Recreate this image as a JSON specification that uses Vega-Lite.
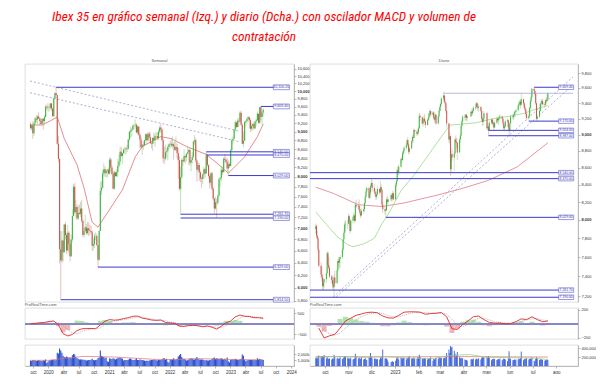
{
"$schema":"https://vega.github.io/schema/vega-lite/v6.json",
"background":"white",
"padding":{"left":24,"top":10,"right":0,"bottom":0},
"title":{"text":["Ibex 35 en gráfico semanal (Izq.) y diario (Dcha.) con oscilador MACD y volumen de","contratación"],"font":"Liberation Sans Narrow, Roboto Condensed, Liberation Sans","fontStyle":"italic","fontWeight":"normal","fontSize":13.3,"lineHeight":20,"color":"#ff0000","anchor":"middle","dx":-46,"offset":15},
"config":{"view":{"stroke":"#c8c8c8","strokeWidth":0.6},"axis":{"labelFont":"Liberation Sans","labelFontSize":4,"labelColor":"#333","tickSize":2,"tickColor":"#777","tickWidth":0.5,"domainColor":"#888","domainWidth":0.5,"labelPadding":1,"grid":false},"title":{"fontWeight":"normal"}},
"datasets":{
"wk":[
{"t":"2019-09-16","o":9180,"h":9230,"l":9050,"c":9080,"v":900},
{"t":"2019-09-23","o":9080,"h":9160,"l":9020,"c":9150,"v":850},
{"t":"2019-09-30","o":9150,"h":9250,"l":8830,"c":8960,"v":1000},
{"t":"2019-10-07","o":8960,"h":9230,"l":8900,"c":9200,"v":950},
{"t":"2019-10-14","o":9200,"h":9350,"l":9150,"c":9310,"v":900},
{"t":"2019-10-21","o":9310,"h":9400,"l":9220,"c":9290,"v":850},
{"t":"2019-10-28","o":9290,"h":9400,"l":9180,"c":9360,"v":900},
{"t":"2019-11-04","o":9360,"h":9470,"l":9300,"c":9310,"v":950},
{"t":"2019-11-11","o":9310,"h":9340,"l":9150,"c":9250,"v":900},
{"t":"2019-11-18","o":9250,"h":9320,"l":9150,"c":9180,"v":850},
{"t":"2019-11-25","o":9180,"h":9330,"l":9150,"c":9300,"v":800},
{"t":"2019-12-02","o":9300,"h":9320,"l":9050,"c":9250,"v":950},
{"t":"2019-12-09","o":9250,"h":9400,"l":9150,"c":9350,"v":900},
{"t":"2019-12-16","o":9350,"h":9650,"l":9330,"c":9600,"v":1100},
{"t":"2019-12-23","o":9600,"h":9650,"l":9530,"c":9580,"v":500},
{"t":"2019-12-30","o":9580,"h":9690,"l":9490,"c":9570,"v":700},
{"t":"2020-01-06","o":9570,"h":9620,"l":9480,"c":9570,"v":900},
{"t":"2020-01-13","o":9570,"h":9700,"l":9530,"c":9680,"v":950},
{"t":"2020-01-20","o":9680,"h":9700,"l":9500,"c":9560,"v":1000},
{"t":"2020-01-27","o":9560,"h":9580,"l":9360,"c":9370,"v":1050},
{"t":"2020-02-03","o":9370,"h":9820,"l":9360,"c":9810,"v":1000},
{"t":"2020-02-10","o":9810,"h":9960,"l":9780,"c":9950,"v":950},
{"t":"2020-02-17","o":9950,"h":10100,"l":9880,"c":9900,"v":1000},
{"t":"2020-02-24","o":9900,"h":9900,"l":8700,"c":8720,"v":2200},
{"t":"2020-03-02","o":8720,"h":8900,"l":8310,"c":8380,"v":2100},
{"t":"2020-03-09","o":8380,"h":8400,"l":6390,"c":6630,"v":2900},
{"t":"2020-03-16","o":6630,"h":6950,"l":5814,"c":6440,"v":2600},
{"t":"2020-03-23","o":6440,"h":6950,"l":6400,"c":6780,"v":2200},
{"t":"2020-03-30","o":6780,"h":6800,"l":6420,"c":6580,"v":1700},
{"t":"2020-04-06","o":6580,"h":7080,"l":6570,"c":7070,"v":1500},
{"t":"2020-04-13","o":7070,"h":7120,"l":6800,"c":6880,"v":1400},
{"t":"2020-04-20","o":6880,"h":6920,"l":6550,"c":6610,"v":1600},
{"t":"2020-04-27","o":6610,"h":7060,"l":6600,"c":6920,"v":1500},
{"t":"2020-05-04","o":6920,"h":6950,"l":6560,"c":6720,"v":1300},
{"t":"2020-05-11","o":6720,"h":6810,"l":6420,"c":6510,"v":1400},
{"t":"2020-05-18","o":6510,"h":6890,"l":6500,"c":6800,"v":1300},
{"t":"2020-05-25","o":6800,"h":7350,"l":6750,"c":7230,"v":1800},
{"t":"2020-06-01","o":7230,"h":7850,"l":7230,"c":7800,"v":2000},
{"t":"2020-06-08","o":7800,"h":7870,"l":7270,"c":7300,"v":1900},
{"t":"2020-06-15","o":7300,"h":7540,"l":7200,"c":7400,"v":1500},
{"t":"2020-06-22","o":7400,"h":7450,"l":7150,"c":7180,"v":1300},
{"t":"2020-06-29","o":7180,"h":7420,"l":7160,"c":7290,"v":1200},
{"t":"2020-07-06","o":7290,"h":7450,"l":7250,"c":7270,"v":1100},
{"t":"2020-07-13","o":7270,"h":7500,"l":7210,"c":7370,"v":1100},
{"t":"2020-07-20","o":7370,"h":7540,"l":7100,"c":7140,"v":1100},
{"t":"2020-07-27","o":7140,"h":7160,"l":6850,"c":6880,"v":1100},
{"t":"2020-08-03","o":6880,"h":7000,"l":6830,"c":6950,"v":1000},
{"t":"2020-08-10","o":6950,"h":7250,"l":6950,"c":7020,"v":1050},
{"t":"2020-08-17","o":7020,"h":7080,"l":6880,"c":6910,"v":900},
{"t":"2020-08-24","o":6910,"h":7120,"l":6890,"c":7000,"v":950},
{"t":"2020-08-31","o":7000,"h":7110,"l":6860,"c":6960,"v":1000},
{"t":"2020-09-07","o":6960,"h":7060,"l":6880,"c":6950,"v":1000},
{"t":"2020-09-14","o":6950,"h":7050,"l":6910,"c":6930,"v":1050},
{"t":"2020-09-21","o":6930,"h":6960,"l":6600,"c":6690,"v":1200},
{"t":"2020-09-28","o":6690,"h":6820,"l":6610,"c":6720,"v":1000},
{"t":"2020-10-05","o":6720,"h":6900,"l":6650,"c":6860,"v":950},
{"t":"2020-10-12","o":6860,"h":6930,"l":6790,"c":6860,"v":1000},
{"t":"2020-10-19","o":6860,"h":6900,"l":6690,"c":6700,"v":1050},
{"t":"2020-10-26","o":6700,"h":6700,"l":6329,"c":6450,"v":1300},
{"t":"2020-11-02","o":6450,"h":6960,"l":6430,"c":6950,"v":1400},
{"t":"2020-11-09","o":6950,"h":7900,"l":6950,"c":7720,"v":2600},
{"t":"2020-11-16","o":7720,"h":7920,"l":7630,"c":7780,"v":1700},
{"t":"2020-11-23","o":7780,"h":8150,"l":7760,"c":8080,"v":1600},
{"t":"2020-11-30","o":8080,"h":8290,"l":8010,"c":8160,"v":1500},
{"t":"2020-12-07","o":8160,"h":8220,"l":8000,"c":8080,"v":1300},
{"t":"2020-12-14","o":8080,"h":8170,"l":8000,"c":8130,"v":1400},
{"t":"2020-12-21","o":8130,"h":8170,"l":7980,"c":8150,"v":800},
{"t":"2020-12-28","o":8150,"h":8200,"l":8050,"c":8070,"v":700},
{"t":"2021-01-04","o":8070,"h":8420,"l":8050,"c":8370,"v":1300},
{"t":"2021-01-11","o":8370,"h":8410,"l":8120,"c":8200,"v":1200},
{"t":"2021-01-18","o":8200,"h":8240,"l":8040,"c":8060,"v":1150},
{"t":"2021-01-25","o":8060,"h":8120,"l":7750,"c":7760,"v":1300},
{"t":"2021-02-01","o":7760,"h":8130,"l":7740,"c":8100,"v":1200},
{"t":"2021-02-08","o":8100,"h":8110,"l":8000,"c":8020,"v":1100},
{"t":"2021-02-15","o":8020,"h":8160,"l":7990,"c":8100,"v":1200},
{"t":"2021-02-22","o":8100,"h":8380,"l":8000,"c":8230,"v":1300},
{"t":"2021-03-01","o":8230,"h":8480,"l":8190,"c":8330,"v":1400},
{"t":"2021-03-08","o":8330,"h":8660,"l":8260,"c":8540,"v":1400},
{"t":"2021-03-15","o":8540,"h":8640,"l":8430,"c":8450,"v":1300},
{"t":"2021-03-22","o":8450,"h":8520,"l":8280,"c":8510,"v":1200},
{"t":"2021-03-29","o":8510,"h":8620,"l":8490,"c":8590,"v":900},
{"t":"2021-04-05","o":8590,"h":8650,"l":8510,"c":8590,"v":1000},
{"t":"2021-04-12","o":8590,"h":8640,"l":8480,"c":8620,"v":1000},
{"t":"2021-04-19","o":8620,"h":8700,"l":8530,"c":8610,"v":1000},
{"t":"2021-04-26","o":8610,"h":8830,"l":8590,"c":8820,"v":1050},
{"t":"2021-05-03","o":8820,"h":9020,"l":8780,"c":9000,"v":1200},
{"t":"2021-05-10","o":9000,"h":9110,"l":8850,"c":9020,"v":1250},
{"t":"2021-05-17","o":9020,"h":9090,"l":8890,"c":9050,"v":1100},
{"t":"2021-05-24","o":9050,"h":9150,"l":9040,"c":9150,"v":1000},
{"t":"2021-05-31","o":9150,"h":9190,"l":9050,"c":9150,"v":1000},
{"t":"2021-06-07","o":9150,"h":9290,"l":9100,"c":9160,"v":1100},
{"t":"2021-06-14","o":9160,"h":9200,"l":8960,"c":8980,"v":1300},
{"t":"2021-06-21","o":8980,"h":9150,"l":8930,"c":9120,"v":1000},
{"t":"2021-06-28","o":9120,"h":9120,"l":8900,"c":8930,"v":1000},
{"t":"2021-07-05","o":8930,"h":8980,"l":8630,"c":8820,"v":1100},
{"t":"2021-07-12","o":8820,"h":8890,"l":8610,"c":8640,"v":1050},
{"t":"2021-07-19","o":8640,"h":8720,"l":8470,"c":8700,"v":1000},
{"t":"2021-07-26","o":8700,"h":8790,"l":8590,"c":8680,"v":950},
{"t":"2021-08-02","o":8680,"h":8820,"l":8680,"c":8800,"v":900},
{"t":"2021-08-09","o":8800,"h":8960,"l":8780,"c":8940,"v":850},
{"t":"2021-08-16","o":8940,"h":8960,"l":8700,"c":8800,"v":900},
{"t":"2021-08-23","o":8800,"h":8990,"l":8780,"c":8950,"v":850},
{"t":"2021-08-30","o":8950,"h":9000,"l":8850,"c":8870,"v":900},
{"t":"2021-09-06","o":8870,"h":8980,"l":8720,"c":8730,"v":950},
{"t":"2021-09-13","o":8730,"h":8780,"l":8620,"c":8720,"v":1000},
{"t":"2021-09-20","o":8720,"h":8860,"l":8560,"c":8860,"v":1000},
{"t":"2021-09-27","o":8860,"h":8980,"l":8730,"c":8800,"v":1100},
{"t":"2021-10-04","o":8800,"h":8950,"l":8660,"c":8900,"v":1000},
{"t":"2021-10-11","o":8900,"h":8990,"l":8840,"c":8900,"v":950},
{"t":"2021-10-18","o":8900,"h":8990,"l":8800,"c":8850,"v":900},
{"t":"2021-10-25","o":8850,"h":9050,"l":8800,"c":9000,"v":1000},
{"t":"2021-11-01","o":9000,"h":9140,"l":8950,"c":9100,"v":1000},
{"t":"2021-11-08","o":9100,"h":9190,"l":8980,"c":9050,"v":1000},
{"t":"2021-11-15","o":9050,"h":9080,"l":8780,"c":8800,"v":1100},
{"t":"2021-11-22","o":8800,"h":8850,"l":8300,"c":8400,"v":1300},
{"t":"2021-11-29","o":8400,"h":8650,"l":8270,"c":8390,"v":1300},
{"t":"2021-12-06","o":8390,"h":8700,"l":8350,"c":8530,"v":1100},
{"t":"2021-12-13","o":8530,"h":8620,"l":8400,"c":8550,"v":1200},
{"t":"2021-12-20","o":8550,"h":8700,"l":8350,"c":8650,"v":700},
{"t":"2021-12-27","o":8650,"h":8730,"l":8600,"c":8710,"v":600},
{"t":"2022-01-03","o":8710,"h":8790,"l":8630,"c":8720,"v":1100},
{"t":"2022-01-10","o":8720,"h":8850,"l":8640,"c":8680,"v":1100},
{"t":"2022-01-17","o":8680,"h":8890,"l":8610,"c":8710,"v":1100},
{"t":"2022-01-24","o":8710,"h":8750,"l":8370,"c":8660,"v":1300},
{"t":"2022-01-31","o":8660,"h":8800,"l":8560,"c":8580,"v":1100},
{"t":"2022-02-07","o":8580,"h":8890,"l":8560,"c":8650,"v":1100},
{"t":"2022-02-14","o":8650,"h":8720,"l":8400,"c":8510,"v":1200},
{"t":"2022-02-21","o":8510,"h":8620,"l":7970,"c":8360,"v":1600},
{"t":"2022-02-28","o":8360,"h":8440,"l":7720,"c":7760,"v":1800},
{"t":"2022-03-07","o":7760,"h":8220,"l":7262,"c":8000,"v":2000},
{"t":"2022-03-14","o":8000,"h":8400,"l":7960,"c":8360,"v":1500},
{"t":"2022-03-21","o":8360,"h":8410,"l":8230,"c":8330,"v":1200},
{"t":"2022-03-28","o":8330,"h":8600,"l":8320,"c":8450,"v":1200},
{"t":"2022-04-04","o":8450,"h":8470,"l":8280,"c":8420,"v":1100},
{"t":"2022-04-11","o":8420,"h":8520,"l":8330,"c":8500,"v":900},
{"t":"2022-04-18","o":8500,"h":8680,"l":8480,"c":8530,"v":950},
{"t":"2022-04-25","o":8530,"h":8600,"l":8250,"c":8580,"v":1100},
{"t":"2022-05-02","o":8580,"h":8630,"l":8240,"c":8300,"v":1200},
{"t":"2022-05-09","o":8300,"h":8370,"l":8120,"c":8360,"v":1300},
{"t":"2022-05-16","o":8360,"h":8530,"l":8280,"c":8430,"v":1200},
{"t":"2022-05-23","o":8430,"h":8790,"l":8400,"c":8770,"v":1100},
{"t":"2022-05-30","o":8770,"h":8920,"l":8700,"c":8800,"v":1100},
{"t":"2022-06-06","o":8800,"h":8850,"l":8300,"c":8350,"v":1200},
{"t":"2022-06-13","o":8350,"h":8380,"l":7900,"c":8150,"v":1500},
{"t":"2022-06-20","o":8150,"h":8310,"l":8100,"c":8250,"v":1200},
{"t":"2022-06-27","o":8250,"h":8300,"l":7920,"c":8100,"v":1100},
{"t":"2022-07-04","o":8100,"h":8130,"l":7890,"c":7970,"v":1100},
{"t":"2022-07-11","o":7970,"h":8010,"l":7770,"c":7960,"v":1100},
{"t":"2022-07-18","o":7960,"h":8080,"l":7860,"c":8050,"v":1100},
{"t":"2022-07-25","o":8050,"h":8220,"l":7960,"c":8160,"v":1000},
{"t":"2022-08-01","o":8160,"h":8190,"l":7980,"c":8070,"v":900},
{"t":"2022-08-08","o":8070,"h":8540,"l":8060,"c":8460,"v":1000},
{"t":"2022-08-15","o":8460,"h":8480,"l":8210,"c":8250,"v":900},
{"t":"2022-08-22","o":8250,"h":8270,"l":7970,"c":8020,"v":900},
{"t":"2022-08-29","o":8020,"h":8050,"l":7760,"c":7880,"v":1000},
{"t":"2022-09-05","o":7880,"h":8100,"l":7820,"c":8080,"v":1000},
{"t":"2022-09-12","o":8080,"h":8110,"l":7720,"c":7760,"v":1200},
{"t":"2022-09-19","o":7760,"h":7800,"l":7530,"c":7560,"v":1300},
{"t":"2022-09-26","o":7560,"h":7580,"l":7260,"c":7370,"v":1400},
{"t":"2022-10-03","o":7370,"h":7600,"l":7350,"c":7490,"v":1200},
{"t":"2022-10-10","o":7490,"h":7560,"l":7190,"c":7480,"v":1300},
{"t":"2022-10-17","o":7480,"h":7660,"l":7440,"c":7620,"v":1200},
{"t":"2022-10-24","o":7620,"h":7990,"l":7600,"c":7950,"v":1200},
{"t":"2022-10-31","o":7950,"h":8000,"l":7800,"c":7980,"v":1200},
{"t":"2022-11-07","o":7980,"h":8230,"l":7910,"c":8150,"v":1300},
{"t":"2022-11-14","o":8150,"h":8220,"l":8040,"c":8100,"v":1200},
{"t":"2022-11-21","o":8100,"h":8420,"l":8090,"c":8390,"v":1100},
{"t":"2022-11-28","o":8390,"h":8490,"l":8300,"c":8360,"v":1200},
{"t":"2022-12-05","o":8360,"h":8420,"l":8290,"c":8320,"v":1100},
{"t":"2022-12-12","o":8320,"h":8400,"l":8110,"c":8180,"v":1400},
{"t":"2022-12-19","o":8180,"h":8360,"l":8029,"c":8270,"v":800},
{"t":"2022-12-26","o":8270,"h":8310,"l":8190,"c":8230,"v":600},
{"t":"2023-01-02","o":8230,"h":8610,"l":8230,"c":8580,"v":1000},
{"t":"2023-01-09","o":8580,"h":8850,"l":8550,"c":8800,"v":1100},
{"t":"2023-01-16","o":8800,"h":8890,"l":8710,"c":8830,"v":1100},
{"t":"2023-01-23","o":8830,"h":9060,"l":8830,"c":9050,"v":1100},
{"t":"2023-01-30","o":9050,"h":9260,"l":8990,"c":9220,"v":1200},
{"t":"2023-02-06","o":9220,"h":9240,"l":9080,"c":9110,"v":1100},
{"t":"2023-02-13","o":9110,"h":9310,"l":9100,"c":9260,"v":1000},
{"t":"2023-02-20","o":9260,"h":9330,"l":9110,"c":9240,"v":1000},
{"t":"2023-02-27","o":9240,"h":9490,"l":9210,"c":9450,"v":1100},
{"t":"2023-03-06","o":9450,"h":9500,"l":9140,"c":9160,"v":1200},
{"t":"2023-03-13","o":9160,"h":9200,"l":8720,"c":8720,"v":1900},
{"t":"2023-03-20","o":8720,"h":9010,"l":8640,"c":8790,"v":1700},
{"t":"2023-03-27","o":8790,"h":9250,"l":8780,"c":9230,"v":1100},
{"t":"2023-04-03","o":9230,"h":9270,"l":9120,"c":9250,"v":800},
{"t":"2023-04-10","o":9250,"h":9340,"l":9180,"c":9300,"v":900},
{"t":"2023-04-17","o":9300,"h":9380,"l":9240,"c":9340,"v":1000},
{"t":"2023-04-24","o":9340,"h":9360,"l":9070,"c":9270,"v":1000},
{"t":"2023-05-01","o":9270,"h":9310,"l":8990,"c":9070,"v":1000},
{"t":"2023-05-08","o":9070,"h":9200,"l":9020,"c":9130,"v":1000},
{"t":"2023-05-15","o":9130,"h":9210,"l":9020,"c":9180,"v":1000},
{"t":"2023-05-22","o":9180,"h":9240,"l":9060,"c":9080,"v":950},
{"t":"2023-05-29","o":9080,"h":9250,"l":9050,"c":9240,"v":1000},
{"t":"2023-06-05","o":9240,"h":9310,"l":9140,"c":9270,"v":1000},
{"t":"2023-06-12","o":9270,"h":9490,"l":9250,"c":9430,"v":1300},
{"t":"2023-06-19","o":9430,"h":9440,"l":9180,"c":9210,"v":1100},
{"t":"2023-06-26","o":9210,"h":9600,"l":9190,"c":9590,"v":1200},
{"t":"2023-07-03","o":9590,"h":9609,"l":9270,"c":9350,"v":1100},
{"t":"2023-07-10","o":9350,"h":9480,"l":9170,"c":9460,"v":1000},
{"t":"2023-07-17","o":9460,"h":9560,"l":9360,"c":9530,"v":1000}
],
"dy":[
{"t":"2022-09-19","o":7900,"h":7960,"l":7850,"c":7930,"v":190},
{"t":"2022-09-20","o":7930,"h":7950,"l":7800,"c":7830,"v":180},
{"t":"2022-09-21","o":7830,"h":7880,"l":7780,"c":7800,"v":170},
{"t":"2022-09-22","o":7800,"h":7820,"l":7650,"c":7680,"v":210},
{"t":"2022-09-23","o":7680,"h":7690,"l":7490,"c":7510,"v":240},
{"t":"2022-09-26","o":7510,"h":7550,"l":7390,"c":7420,"v":220},
{"t":"2022-09-27","o":7420,"h":7500,"l":7350,"c":7390,"v":200},
{"t":"2022-09-28","o":7390,"h":7420,"l":7265,"c":7300,"v":230},
{"t":"2022-09-29","o":7300,"h":7380,"l":7260,"c":7340,"v":210},
{"t":"2022-09-30","o":7340,"h":7380,"l":7280,"c":7370,"v":250},
{"t":"2022-10-03","o":7370,"h":7450,"l":7330,"c":7430,"v":170},
{"t":"2022-10-04","o":7430,"h":7660,"l":7430,"c":7640,"v":200},
{"t":"2022-10-05","o":7640,"h":7660,"l":7500,"c":7520,"v":180},
{"t":"2022-10-06","o":7520,"h":7600,"l":7470,"c":7490,"v":160},
{"t":"2022-10-07","o":7490,"h":7500,"l":7380,"c":7400,"v":170},
{"t":"2022-10-10","o":7400,"h":7420,"l":7330,"c":7360,"v":150},
{"t":"2022-10-11","o":7360,"h":7400,"l":7280,"c":7320,"v":170},
{"t":"2022-10-12","o":7320,"h":7360,"l":7260,"c":7290,"v":160},
{"t":"2022-10-13","o":7290,"h":7420,"l":7190,"c":7390,"v":260},
{"t":"2022-10-14","o":7390,"h":7460,"l":7300,"c":7330,"v":200},
{"t":"2022-10-17","o":7330,"h":7480,"l":7330,"c":7460,"v":170},
{"t":"2022-10-18","o":7460,"h":7580,"l":7440,"c":7560,"v":190},
{"t":"2022-10-19","o":7560,"h":7600,"l":7500,"c":7540,"v":160},
{"t":"2022-10-20","o":7540,"h":7600,"l":7480,"c":7580,"v":170},
{"t":"2022-10-21","o":7580,"h":7620,"l":7480,"c":7600,"v":200},
{"t":"2022-10-24","o":7600,"h":7700,"l":7580,"c":7680,"v":160},
{"t":"2022-10-25","o":7680,"h":7800,"l":7650,"c":7790,"v":180},
{"t":"2022-10-26","o":7790,"h":7900,"l":7760,"c":7860,"v":200},
{"t":"2022-10-27","o":7860,"h":7990,"l":7850,"c":7950,"v":230},
{"t":"2022-10-28","o":7950,"h":8000,"l":7880,"c":7960,"v":210},
{"t":"2022-10-31","o":7960,"h":8000,"l":7900,"c":7960,"v":190},
{"t":"2022-11-01","o":7960,"h":8070,"l":7950,"c":8040,"v":170},
{"t":"2022-11-02","o":8040,"h":8060,"l":7950,"c":7990,"v":160},
{"t":"2022-11-03","o":7990,"h":8000,"l":7850,"c":7880,"v":190},
{"t":"2022-11-04","o":7880,"h":8010,"l":7870,"c":7990,"v":180},
{"t":"2022-11-07","o":7990,"h":8050,"l":7960,"c":8030,"v":150},
{"t":"2022-11-08","o":8030,"h":8080,"l":7990,"c":8050,"v":160},
{"t":"2022-11-09","o":8050,"h":8060,"l":7970,"c":7990,"v":170},
{"t":"2022-11-10","o":7990,"h":8200,"l":7980,"c":8170,"v":280},
{"t":"2022-11-11","o":8170,"h":8230,"l":8130,"c":8150,"v":220},
{"t":"2022-11-14","o":8150,"h":8200,"l":8110,"c":8160,"v":170},
{"t":"2022-11-15","o":8160,"h":8230,"l":8100,"c":8120,"v":190},
{"t":"2022-11-16","o":8120,"h":8140,"l":8050,"c":8080,"v":170},
{"t":"2022-11-17","o":8080,"h":8100,"l":8020,"c":8050,"v":160},
{"t":"2022-11-18","o":8050,"h":8130,"l":8040,"c":8100,"v":200},
{"t":"2022-11-21","o":8100,"h":8150,"l":8070,"c":8120,"v":150},
{"t":"2022-11-22","o":8120,"h":8200,"l":8090,"c":8190,"v":160},
{"t":"2022-11-23","o":8190,"h":8280,"l":8170,"c":8260,"v":180},
{"t":"2022-11-24","o":8260,"h":8350,"l":8250,"c":8320,"v":150},
{"t":"2022-11-25","o":8320,"h":8380,"l":8300,"c":8360,"v":140},
{"t":"2022-11-28","o":8360,"h":8370,"l":8230,"c":8250,"v":200},
{"t":"2022-11-29","o":8250,"h":8330,"l":8240,"c":8310,"v":190},
{"t":"2022-11-30","o":8310,"h":8400,"l":8290,"c":8380,"v":300},
{"t":"2022-12-01","o":8380,"h":8480,"l":8370,"c":8420,"v":210},
{"t":"2022-12-02","o":8420,"h":8450,"l":8320,"c":8360,"v":180},
{"t":"2022-12-05","o":8360,"h":8400,"l":8300,"c":8320,"v":170},
{"t":"2022-12-06","o":8320,"h":8350,"l":8260,"c":8290,"v":160},
{"t":"2022-12-07","o":8290,"h":8310,"l":8220,"c":8260,"v":170},
{"t":"2022-12-08","o":8260,"h":8320,"l":8230,"c":8290,"v":150},
{"t":"2022-12-09","o":8290,"h":8380,"l":8280,"c":8350,"v":160},
{"t":"2022-12-12","o":8350,"h":8360,"l":8280,"c":8310,"v":150},
{"t":"2022-12-13","o":8310,"h":8440,"l":8300,"c":8370,"v":190},
{"t":"2022-12-14","o":8370,"h":8400,"l":8320,"c":8340,"v":170},
{"t":"2022-12-15","o":8340,"h":8350,"l":8150,"c":8170,"v":230},
{"t":"2022-12-16","o":8170,"h":8200,"l":8080,"c":8120,"v":380},
{"t":"2022-12-19","o":8120,"h":8160,"l":8060,"c":8100,"v":170},
{"t":"2022-12-20","o":8100,"h":8140,"l":8029,"c":8110,"v":180},
{"t":"2022-12-21","o":8110,"h":8250,"l":8100,"c":8230,"v":170},
{"t":"2022-12-22","o":8230,"h":8270,"l":8170,"c":8200,"v":150},
{"t":"2022-12-23","o":8200,"h":8250,"l":8180,"c":8230,"v":100},
{"t":"2022-12-27","o":8230,"h":8300,"l":8210,"c":8280,"v":90},
{"t":"2022-12-28","o":8280,"h":8300,"l":8200,"c":8240,"v":100},
{"t":"2022-12-29","o":8240,"h":8330,"l":8230,"c":8300,"v":110},
{"t":"2022-12-30","o":8300,"h":8310,"l":8220,"c":8230,"v":90},
{"t":"2023-01-02","o":8230,"h":8420,"l":8230,"c":8400,"v":120},
{"t":"2023-01-03","o":8400,"h":8450,"l":8370,"c":8440,"v":170},
{"t":"2023-01-04","o":8440,"h":8600,"l":8430,"c":8570,"v":200},
{"t":"2023-01-05","o":8570,"h":8620,"l":8520,"c":8550,"v":180},
{"t":"2023-01-06","o":8550,"h":8640,"l":8510,"c":8610,"v":150},
{"t":"2023-01-09","o":8610,"h":8720,"l":8600,"c":8700,"v":190},
{"t":"2023-01-10","o":8700,"h":8730,"l":8650,"c":8690,"v":170},
{"t":"2023-01-11","o":8690,"h":8790,"l":8680,"c":8770,"v":180},
{"t":"2023-01-12","o":8770,"h":8820,"l":8740,"c":8800,"v":180},
{"t":"2023-01-13","o":8800,"h":8860,"l":8760,"c":8840,"v":190},
{"t":"2023-01-16","o":8840,"h":8900,"l":8810,"c":8870,"v":150},
{"t":"2023-01-17","o":8870,"h":8950,"l":8840,"c":8930,"v":180},
{"t":"2023-01-18","o":8930,"h":8970,"l":8860,"c":8880,"v":190},
{"t":"2023-01-19","o":8880,"h":8890,"l":8760,"c":8790,"v":200},
{"t":"2023-01-20","o":8790,"h":8850,"l":8760,"c":8830,"v":220},
{"t":"2023-01-23","o":8830,"h":8930,"l":8820,"c":8920,"v":170},
{"t":"2023-01-24","o":8920,"h":8990,"l":8900,"c":8970,"v":180},
{"t":"2023-01-25","o":8970,"h":9010,"l":8900,"c":8960,"v":170},
{"t":"2023-01-26","o":8960,"h":9080,"l":8950,"c":9060,"v":200},
{"t":"2023-01-27","o":9060,"h":9070,"l":8990,"c":9040,"v":160},
{"t":"2023-01-30","o":9040,"h":9060,"l":8980,"c":9010,"v":160},
{"t":"2023-01-31","o":9010,"h":9070,"l":8990,"c":9030,"v":200},
{"t":"2023-02-01","o":9030,"h":9100,"l":9000,"c":9080,"v":190},
{"t":"2023-02-02","o":9080,"h":9270,"l":9070,"c":9240,"v":260},
{"t":"2023-02-03","o":9240,"h":9270,"l":9170,"c":9220,"v":210},
{"t":"2023-02-06","o":9220,"h":9230,"l":9120,"c":9140,"v":170},
{"t":"2023-02-07","o":9140,"h":9200,"l":9100,"c":9180,"v":160},
{"t":"2023-02-08","o":9180,"h":9240,"l":9150,"c":9200,"v":170},
{"t":"2023-02-09","o":9200,"h":9260,"l":9150,"c":9170,"v":180},
{"t":"2023-02-10","o":9170,"h":9180,"l":9080,"c":9120,"v":170},
{"t":"2023-02-13","o":9120,"h":9200,"l":9110,"c":9190,"v":150},
{"t":"2023-02-14","o":9190,"h":9260,"l":9170,"c":9220,"v":160},
{"t":"2023-02-15","o":9220,"h":9280,"l":9180,"c":9270,"v":170},
{"t":"2023-02-16","o":9270,"h":9330,"l":9240,"c":9300,"v":180},
{"t":"2023-02-17","o":9300,"h":9310,"l":9220,"c":9250,"v":200},
{"t":"2023-02-20","o":9250,"h":9300,"l":9230,"c":9280,"v":120},
{"t":"2023-02-21","o":9280,"h":9290,"l":9180,"c":9210,"v":160},
{"t":"2023-02-22","o":9210,"h":9230,"l":9150,"c":9190,"v":150},
{"t":"2023-02-23","o":9190,"h":9270,"l":9180,"c":9250,"v":170},
{"t":"2023-02-24","o":9250,"h":9260,"l":9120,"c":9140,"v":190},
{"t":"2023-02-27","o":9140,"h":9250,"l":9130,"c":9230,"v":160},
{"t":"2023-02-28","o":9230,"h":9320,"l":9220,"c":9300,"v":200},
{"t":"2023-03-01","o":9300,"h":9380,"l":9280,"c":9350,"v":190},
{"t":"2023-03-02","o":9350,"h":9410,"l":9300,"c":9390,"v":180},
{"t":"2023-03-03","o":9390,"h":9470,"l":9370,"c":9460,"v":190},
{"t":"2023-03-06","o":9460,"h":9550,"l":9430,"c":9500,"v":180},
{"t":"2023-03-07","o":9500,"h":9510,"l":9400,"c":9420,"v":190},
{"t":"2023-03-08","o":9420,"h":9450,"l":9350,"c":9400,"v":170},
{"t":"2023-03-09","o":9400,"h":9410,"l":9270,"c":9300,"v":220},
{"t":"2023-03-10","o":9300,"h":9310,"l":9100,"c":9140,"v":300},
{"t":"2023-03-13","o":9140,"h":9150,"l":8900,"c":8940,"v":380},
{"t":"2023-03-14","o":8940,"h":9030,"l":8880,"c":8980,"v":300},
{"t":"2023-03-15","o":8980,"h":8990,"l":8500,"c":8580,"v":460},
{"t":"2023-03-16","o":8580,"h":8800,"l":8530,"c":8760,"v":420},
{"t":"2023-03-17","o":8760,"h":8830,"l":8680,"c":8720,"v":440},
{"t":"2023-03-20","o":8720,"h":8800,"l":8560,"c":8770,"v":350},
{"t":"2023-03-21","o":8770,"h":8960,"l":8760,"c":8940,"v":280},
{"t":"2023-03-22","o":8940,"h":8990,"l":8880,"c":8910,"v":220},
{"t":"2023-03-23","o":8910,"h":8960,"l":8830,"c":8900,"v":240},
{"t":"2023-03-24","o":8900,"h":8910,"l":8690,"c":8780,"v":320},
{"t":"2023-03-27","o":8780,"h":8960,"l":8780,"c":8940,"v":200},
{"t":"2023-03-28","o":8940,"h":9010,"l":8900,"c":8990,"v":180},
{"t":"2023-03-29","o":8990,"h":9130,"l":8980,"c":9110,"v":190},
{"t":"2023-03-30","o":9110,"h":9190,"l":9090,"c":9170,"v":170},
{"t":"2023-03-31","o":9170,"h":9240,"l":9140,"c":9230,"v":180},
{"t":"2023-04-03","o":9230,"h":9260,"l":9180,"c":9220,"v":150},
{"t":"2023-04-04","o":9220,"h":9260,"l":9170,"c":9250,"v":140},
{"t":"2023-04-05","o":9250,"h":9270,"l":9180,"c":9210,"v":140},
{"t":"2023-04-06","o":9210,"h":9240,"l":9160,"c":9230,"v":120},
{"t":"2023-04-11","o":9230,"h":9300,"l":9220,"c":9290,"v":150},
{"t":"2023-04-12","o":9290,"h":9330,"l":9250,"c":9270,"v":160},
{"t":"2023-04-13","o":9270,"h":9320,"l":9240,"c":9300,"v":150},
{"t":"2023-04-14","o":9300,"h":9360,"l":9280,"c":9340,"v":170},
{"t":"2023-04-17","o":9340,"h":9390,"l":9310,"c":9350,"v":150},
{"t":"2023-04-18","o":9350,"h":9420,"l":9330,"c":9400,"v":170},
{"t":"2023-04-19","o":9400,"h":9410,"l":9320,"c":9360,"v":160},
{"t":"2023-04-20","o":9360,"h":9390,"l":9300,"c":9340,"v":150},
{"t":"2023-04-21","o":9340,"h":9380,"l":9290,"c":9350,"v":180},
{"t":"2023-04-24","o":9350,"h":9360,"l":9280,"c":9300,"v":150},
{"t":"2023-04-25","o":9300,"h":9310,"l":9170,"c":9200,"v":190},
{"t":"2023-04-26","o":9200,"h":9220,"l":9110,"c":9160,"v":200},
{"t":"2023-04-27","o":9160,"h":9230,"l":9120,"c":9200,"v":190},
{"t":"2023-04-28","o":9200,"h":9300,"l":9180,"c":9270,"v":200},
{"t":"2023-05-02","o":9270,"h":9290,"l":9060,"c":9080,"v":220},
{"t":"2023-05-03","o":9080,"h":9150,"l":9050,"c":9100,"v":180},
{"t":"2023-05-04","o":9100,"h":9120,"l":8987,"c":9054,"v":230},
{"t":"2023-05-05","o":9054,"h":9180,"l":9050,"c":9150,"v":190},
{"t":"2023-05-08","o":9150,"h":9200,"l":9130,"c":9190,"v":130},
{"t":"2023-05-09","o":9190,"h":9200,"l":9120,"c":9140,"v":160},
{"t":"2023-05-10","o":9140,"h":9180,"l":9100,"c":9150,"v":150},
{"t":"2023-05-11","o":9150,"h":9160,"l":9050,"c":9090,"v":170},
{"t":"2023-05-12","o":9090,"h":9180,"l":9080,"c":9150,"v":160},
{"t":"2023-05-15","o":9150,"h":9220,"l":9130,"c":9200,"v":140},
{"t":"2023-05-16","o":9200,"h":9230,"l":9160,"c":9180,"v":150},
{"t":"2023-05-17","o":9180,"h":9220,"l":9120,"c":9200,"v":160},
{"t":"2023-05-18","o":9200,"h":9250,"l":9180,"c":9220,"v":150},
{"t":"2023-05-19","o":9220,"h":9260,"l":9190,"c":9230,"v":170},
{"t":"2023-05-22","o":9230,"h":9240,"l":9180,"c":9200,"v":130},
{"t":"2023-05-23","o":9200,"h":9210,"l":9120,"c":9140,"v":150},
{"t":"2023-05-24","o":9140,"h":9150,"l":9060,"c":9080,"v":170},
{"t":"2023-05-25","o":9080,"h":9120,"l":9040,"c":9100,"v":160},
{"t":"2023-05-26","o":9100,"h":9190,"l":9090,"c":9170,"v":150},
{"t":"2023-05-29","o":9170,"h":9210,"l":9150,"c":9180,"v":110},
{"t":"2023-05-30","o":9180,"h":9190,"l":9070,"c":9090,"v":170},
{"t":"2023-05-31","o":9090,"h":9100,"l":8990,"c":9050,"v":340},
{"t":"2023-06-01","o":9050,"h":9160,"l":9030,"c":9140,"v":170},
{"t":"2023-06-02","o":9140,"h":9250,"l":9140,"c":9230,"v":160},
{"t":"2023-06-05","o":9230,"h":9260,"l":9190,"c":9220,"v":130},
{"t":"2023-06-06","o":9220,"h":9260,"l":9180,"c":9250,"v":140},
{"t":"2023-06-07","o":9250,"h":9300,"l":9220,"c":9280,"v":150},
{"t":"2023-06-08","o":9280,"h":9310,"l":9230,"c":9290,"v":140},
{"t":"2023-06-09","o":9290,"h":9330,"l":9260,"c":9310,"v":150},
{"t":"2023-06-12","o":9310,"h":9390,"l":9300,"c":9370,"v":150},
{"t":"2023-06-13","o":9370,"h":9420,"l":9340,"c":9400,"v":170},
{"t":"2023-06-14","o":9400,"h":9440,"l":9370,"c":9420,"v":160},
{"t":"2023-06-15","o":9420,"h":9450,"l":9330,"c":9380,"v":180},
{"t":"2023-06-16","o":9380,"h":9530,"l":9370,"c":9450,"v":330},
{"t":"2023-06-19","o":9450,"h":9460,"l":9380,"c":9400,"v":130},
{"t":"2023-06-20","o":9400,"h":9410,"l":9320,"c":9340,"v":160},
{"t":"2023-06-21","o":9340,"h":9370,"l":9290,"c":9320,"v":150},
{"t":"2023-06-22","o":9320,"h":9330,"l":9230,"c":9260,"v":170},
{"t":"2023-06-23","o":9260,"h":9270,"l":9180,"c":9210,"v":180},
{"t":"2023-06-26","o":9210,"h":9260,"l":9170,"c":9240,"v":150},
{"t":"2023-06-27","o":9240,"h":9350,"l":9230,"c":9340,"v":160},
{"t":"2023-06-28","o":9340,"h":9450,"l":9330,"c":9430,"v":170},
{"t":"2023-06-29","o":9430,"h":9500,"l":9410,"c":9480,"v":160},
{"t":"2023-06-30","o":9480,"h":9600,"l":9470,"c":9590,"v":200},
{"t":"2023-07-03","o":9590,"h":9609,"l":9530,"c":9560,"v":120},
{"t":"2023-07-04","o":9560,"h":9570,"l":9490,"c":9520,"v":110},
{"t":"2023-07-05","o":9520,"h":9530,"l":9380,"c":9400,"v":160},
{"t":"2023-07-06","o":9400,"h":9410,"l":9180,"c":9200,"v":200},
{"t":"2023-07-07","o":9200,"h":9260,"l":9170,"c":9230,"v":170},
{"t":"2023-07-10","o":9230,"h":9320,"l":9210,"c":9300,"v":140},
{"t":"2023-07-11","o":9300,"h":9400,"l":9290,"c":9390,"v":150},
{"t":"2023-07-12","o":9390,"h":9450,"l":9360,"c":9410,"v":160},
{"t":"2023-07-13","o":9410,"h":9450,"l":9370,"c":9430,"v":150},
{"t":"2023-07-14","o":9430,"h":9460,"l":9370,"c":9390,"v":140},
{"t":"2023-07-17","o":9390,"h":9420,"l":9340,"c":9380,"v":120},
{"t":"2023-07-18","o":9380,"h":9450,"l":9370,"c":9440,"v":140},
{"t":"2023-07-19","o":9440,"h":9480,"l":9400,"c":9430,"v":130},
{"t":"2023-07-20","o":9430,"h":9520,"l":9420,"c":9460,"v":150},
{"t":"2023-07-21","o":9460,"h":9540,"l":9440,"c":9527,"v":140}
],
"smaL":[{"t":"2019-09-16","p":9158},{"t":"2019-11-25","p":9158},{"t":"2020-01-13","p":9254},{"t":"2020-02-24","p":9350},{"t":"2020-04-06","p":8839},{"t":"2020-06-22","p":8255},{"t":"2020-08-03","p":7776},{"t":"2020-09-21","p":7110},{"t":"2020-10-26","p":7020},{"t":"2021-03-22","p":7737},{"t":"2021-06-07","p":8427},{"t":"2021-07-19","p":8659},{"t":"2021-11-08","p":8884},{"t":"2022-01-10","p":8838},{"t":"2022-04-11","p":8659},{"t":"2022-08-08","p":8483},{"t":"2022-10-24","p":8255},{"t":"2022-12-19","p":8078},{"t":"2023-03-27","p":8428},{"t":"2023-06-12","p":8884},{"t":"2023-07-17","p":9182}],
"sma50R":[{"t":"2022-09-19","p":8090},{"t":"2022-10-03","p":7950},{"t":"2022-10-17","p":7820},{"t":"2022-10-31","p":7730},{"t":"2022-11-07","p":7710},{"t":"2022-11-21","p":7740},{"t":"2022-12-05","p":7800},{"t":"2022-12-15","p":7960},{"t":"2022-12-21","p":8030},{"t":"2023-01-09","p":8330},{"t":"2023-01-26","p":8510},{"t":"2023-02-20","p":8830},{"t":"2023-03-14","p":9120},{"t":"2023-03-28","p":9130},{"t":"2023-04-18","p":9150},{"t":"2023-05-09","p":9200},{"t":"2023-05-30","p":9230},{"t":"2023-06-20","p":9270},{"t":"2023-07-07","p":9330},{"t":"2023-07-21","p":9370}],
"sma200R":[{"t":"2022-09-19","p":8370},{"t":"2022-10-12","p":8300},{"t":"2022-11-14","p":8170},{"t":"2022-12-15","p":8150},{"t":"2023-01-13","p":8190},{"t":"2023-02-26","p":8280},{"t":"2023-04-01","p":8360},{"t":"2023-05-04","p":8450},{"t":"2023-06-11","p":8610},{"t":"2023-07-21","p":8900}],
"trendL":[{"a":"2019-09-13","b":"2023-02-17","y1":10266,"y2":9016},{"a":"2019-09-13","b":"2023-03-01","y1":9959,"y2":8763}],
"trendR":[{"a":"2022-10-12","b":"2023-08-23","y1":7193,"y2":9748},{"a":"2022-10-16","b":"2023-08-23","y1":7193,"y2":9640}],
"lvlL":[{"p":10100.2,"s":"2020-02-17","lab":"10,100.20"},{"p":9609.4,"s":"2023-07-03","lab":"9,609.40"},{"p":8540,"s":"2022-08-08","lab":"8,540.00"},{"p":8470,"s":"2022-08-08","lab":"8,470.00"},{"p":8029,"s":"2022-12-19","lab":"8,029.00"},{"p":7261.7,"s":"2022-03-07","lab":"7,261.70"},{"p":7190,"s":"2022-03-07","lab":"7,190.00"},{"p":6329,"s":"2020-10-26","lab":"6,329.00"},{"p":5814.5,"s":"2020-03-16","lab":"5,814.50"}],
"lvlR":[{"p":9609.4,"s":"2023-07-03","lab":"9,609.40"},{"p":9170,"s":"2023-06-26","lab":"9,170.00"},{"p":9054,"s":"2023-05-04","lab":"9,054.00"},{"p":8987,"s":"2023-05-04","lab":"8,987.00"},{"p":8540,"s":"2022-08-08","lab":"8,540.00"},{"p":8470,"s":"2022-08-08","lab":"8,470.00"},{"p":8029,"s":"2022-12-20","lab":"8,029.00"},{"p":7261.7,"s":"2022-03-07","lab":"7,261.70"},{"p":7190,"s":"2022-03-07","lab":"7,190.00"}],
"thinR":[{"p":9530,"s":"2023-03-06"}],
"macdL":[{"t":"2019-09-16","m":10,"s":5,"h":5},{"t":"2019-10-14","m":15,"s":10,"h":5},{"t":"2019-11-11","m":45,"s":30,"h":15},{"t":"2019-12-09","m":60,"s":50,"h":10},{"t":"2020-01-06","m":110,"s":80,"h":30},{"t":"2020-02-03","m":130,"s":110,"h":20},{"t":"2020-03-02","m":-60,"s":60,"h":-120},{"t":"2020-03-30","m":-480,"s":-60,"h":-420},{"t":"2020-04-27","m":-590,"s":-280,"h":-310},{"t":"2020-05-25","m":-520,"s":-450,"h":-70},{"t":"2020-06-22","m":-330,"s":-480,"h":150},{"t":"2020-07-20","m":-250,"s":-380,"h":130},{"t":"2020-08-17","m":-230,"s":-300,"h":70},{"t":"2020-09-14","m":-230,"s":-260,"h":30},{"t":"2020-10-12","m":-240,"s":-240,"h":0},{"t":"2020-11-09","m":-60,"s":-200,"h":140},{"t":"2020-12-07","m":120,"s":-60,"h":180},{"t":"2021-01-04","m":200,"s":60,"h":140},{"t":"2021-02-01","m":170,"s":130,"h":40},{"t":"2021-03-01","m":190,"s":160,"h":30},{"t":"2021-03-29","m":250,"s":190,"h":60},{"t":"2021-04-26","m":290,"s":230,"h":60},{"t":"2021-05-24","m":360,"s":280,"h":80},{"t":"2021-06-21","m":370,"s":330,"h":40},{"t":"2021-07-19","m":270,"s":320,"h":-50},{"t":"2021-08-16","m":230,"s":270,"h":-40},{"t":"2021-09-13","m":180,"s":230,"h":-50},{"t":"2021-10-11","m":160,"s":190,"h":-30},{"t":"2021-11-08","m":180,"s":170,"h":10},{"t":"2021-12-06","m":60,"s":140,"h":-80},{"t":"2022-01-03","m":40,"s":90,"h":-50},{"t":"2022-01-31","m":20,"s":50,"h":-30},{"t":"2022-02-28","m":-120,"s":0,"h":-120},{"t":"2022-03-28","m":-130,"s":-70,"h":-60},{"t":"2022-04-25","m":-90,"s":-100,"h":10},{"t":"2022-05-23","m":-80,"s":-90,"h":10},{"t":"2022-06-20","m":-100,"s":-90,"h":-10},{"t":"2022-07-18","m":-150,"s":-110,"h":-40},{"t":"2022-08-15","m":-110,"s":-120,"h":10},{"t":"2022-09-12","m":-170,"s":-130,"h":-40},{"t":"2022-10-10","m":-260,"s":-170,"h":-90},{"t":"2022-11-07","m":-120,"s":-180,"h":60},{"t":"2022-12-05","m":40,"s":-100,"h":140},{"t":"2023-01-02","m":130,"s":0,"h":130},{"t":"2023-01-30","m":330,"s":150,"h":180},{"t":"2023-02-27","m":420,"s":280,"h":140},{"t":"2023-03-27","m":360,"s":360,"h":0},{"t":"2023-04-24","m":350,"s":360,"h":-10},{"t":"2023-05-22","m":290,"s":340,"h":-50},{"t":"2023-06-19","m":290,"s":310,"h":-20},{"t":"2023-07-17","m":260,"s":300,"h":-40}],
"macdR":[{"t":"2022-09-23","m":-60,"s":-20,"h":-40},{"t":"2022-09-30","m":-200,"s":-90,"h":-110},{"t":"2022-10-07","m":-170,"s":-140,"h":-30},{"t":"2022-10-14","m":-150,"s":-160,"h":10},{"t":"2022-10-21","m":-60,"s":-130,"h":70},{"t":"2022-10-28","m":40,"s":-60,"h":100},{"t":"2022-11-04","m":80,"s":0,"h":80},{"t":"2022-11-11","m":120,"s":60,"h":60},{"t":"2022-11-18","m":140,"s":100,"h":40},{"t":"2022-11-25","m":160,"s":130,"h":30},{"t":"2022-12-02","m":165,"s":150,"h":15},{"t":"2022-12-09","m":155,"s":160,"h":-5},{"t":"2022-12-16","m":110,"s":145,"h":-35},{"t":"2022-12-23","m":85,"s":120,"h":-35},{"t":"2022-12-30","m":80,"s":100,"h":-20},{"t":"2023-01-06","m":120,"s":100,"h":20},{"t":"2023-01-13","m":165,"s":120,"h":45},{"t":"2023-01-20","m":170,"s":145,"h":25},{"t":"2023-01-27","m":170,"s":160,"h":10},{"t":"2023-02-03","m":165,"s":165,"h":0},{"t":"2023-02-10","m":135,"s":155,"h":-20},{"t":"2023-02-17","m":145,"s":150,"h":-5},{"t":"2023-02-24","m":150,"s":150,"h":0},{"t":"2023-03-03","m":160,"s":150,"h":10},{"t":"2023-03-10","m":100,"s":140,"h":-40},{"t":"2023-03-17","m":-70,"s":60,"h":-130},{"t":"2023-03-24","m":-80,"s":-10,"h":-70},{"t":"2023-03-31","m":-10,"s":-40,"h":30},{"t":"2023-04-07","m":40,"s":-10,"h":50},{"t":"2023-04-14","m":100,"s":40,"h":60},{"t":"2023-04-21","m":110,"s":80,"h":30},{"t":"2023-04-28","m":60,"s":80,"h":-20},{"t":"2023-05-05","m":20,"s":55,"h":-35},{"t":"2023-05-12","m":10,"s":30,"h":-20},{"t":"2023-05-19","m":10,"s":20,"h":-10},{"t":"2023-05-26","m":0,"s":10,"h":-10},{"t":"2023-06-02","m":5,"s":5,"h":0},{"t":"2023-06-09","m":30,"s":10,"h":20},{"t":"2023-06-16","m":70,"s":35,"h":35},{"t":"2023-06-23","m":60,"s":55,"h":5},{"t":"2023-06-30","m":100,"s":70,"h":30},{"t":"2023-07-07","m":60,"s":75,"h":-15},{"t":"2023-07-14","m":30,"s":55,"h":-25},{"t":"2023-07-21","m":40,"s":45,"h":-5}],
"vsL":[{"t":"2019-09-16","v":950},{"t":"2020-01-06","v":950},{"t":"2020-04-06","v":1300},{"t":"2020-08-03","v":1600},{"t":"2020-11-02","v":1550},{"t":"2021-02-01","v":1500},{"t":"2021-06-07","v":1300},{"t":"2021-10-04","v":1100},{"t":"2022-02-07","v":1050},{"t":"2022-06-06","v":1250},{"t":"2022-10-03","v":1150},{"t":"2023-02-06","v":1050},{"t":"2023-07-17","v":1050}],
"vs200R":[{"t":"2022-09-19","v":215},{"t":"2023-01-02","v":210},{"t":"2023-04-03","v":215},{"t":"2023-07-21","v":205}],
"vs30R":[{"t":"2022-09-19","v":200},{"t":"2022-10-20","v":220},{"t":"2022-11-20","v":195},{"t":"2022-12-20","v":215},{"t":"2023-01-20","v":180},{"t":"2023-02-20","v":170},{"t":"2023-03-20","v":250},{"t":"2023-04-10","v":260},{"t":"2023-05-01","v":200},{"t":"2023-06-01","v":190},{"t":"2023-07-01","v":180},{"t":"2023-07-21","v":150}]
},
"hconcat":[
{"bounds":"flush","spacing":6,"vconcat":[
 {"width":269,"height":238,"title":{"text":"Semanal","fontSize":4,"color":"#555","offset":1},
  "layer":[
   {"data":{"name":"trendL"},"mark":{"type":"rule","strokeDash":[2,2],"color":"#8c8cb8","strokeWidth":0.7,"clip":true},
    "encoding":{"x":{"field":"a","type":"temporal","scale":{"domain":[{"year":2019,"month":9,"date":13},{"year":2023,"month":12,"date":19}]},"axis":null},"x2":{"field":"b"},
     "y":{"field":"y1","type":"quantitative","title":null,"scale":{"type":"log","domain":[5780,10730],"nice":false,"zero":false},
      "axis":{"orient":"right","values":[5800,6000,6200,6400,6600,6800,7000,7200,7400,7600,7800,8000,8200,8400,8600,8800,9000,9200,9400,9600,9800,10000,10200,10400,10600],"format":",","labelFontWeight":{"condition":{"test":"datum.value % 1000 === 0","value":"bold"},"value":"normal"}}},
     "y2":{"field":"y2"}}},
   {"data":{"name":"smaL"},"mark":{"type":"line","color":"#e07070","strokeWidth":0.8,"clip":true},"encoding":{"x":{"field":"t","type":"temporal"},"y":{"field":"p","type":"quantitative"}}},
   {"data":{"name":"wk"},"mark":{"type":"rule","strokeWidth":0.6,"clip":true},"encoding":{"x":{"field":"t","type":"temporal"},"y":{"field":"l","type":"quantitative"},"y2":{"field":"h"},"color":{"condition":{"test":"datum.c>=datum.o","value":"#8fcf8f"},"value":"#d99a94"}}},
   {"data":{"name":"wk"},"mark":{"type":"bar","size":1.1,"clip":true},"encoding":{"x":{"field":"t","type":"temporal"},"y":{"field":"o","type":"quantitative"},"y2":{"field":"c"},"color":{"condition":{"test":"datum.c>=datum.o","value":"#3fb53f"},"value":"#c8574e"}}},
   {"data":{"name":"lvlL"},"mark":{"type":"rule","color":"#3a3ad0","strokeWidth":1,"clip":true},"encoding":{"x":{"field":"s","type":"temporal"},"x2":{"datum":{"year":2023,"month":12,"date":19}},"y":{"field":"p","type":"quantitative"}}},
   {"data":{"name":"lvlL"},"mark":{"type":"point","shape":"M-1,-0.3L1,-0.3L1,0.3L-1,0.3Z","size":256,"filled":true,"fill":"white","stroke":"#5555cc","strokeWidth":0.6,"opacity":1},"encoding":{"x":{"datum":{"year":2023,"month":11,"date":3}},"y":{"field":"p","type":"quantitative"}}},
   {"data":{"name":"lvlL"},"mark":{"type":"text","fontSize":3.6,"color":"#3333aa","font":"Liberation Sans"},"encoding":{"x":{"datum":{"year":2023,"month":11,"date":3}},"y":{"field":"p","type":"quantitative"},"text":{"field":"lab"}}}
  ]},
 {"width":269,"height":31,"title":{"text":"ProRealTime.com","fontSize":4,"color":"#555","anchor":"start","offset":1},"data":{"name":"macdL"},
  "layer":[
   {"mark":{"type":"bar","size":4.8,"opacity":0.55},"encoding":{"x":{"field":"t","type":"temporal","scale":{"domain":[{"year":2019,"month":9,"date":13},{"year":2023,"month":12,"date":19}]},"axis":null},"y":{"field":"h","type":"quantitative","title":null,"scale":{"domain":[-740,760],"nice":false},"axis":{"orient":"right","values":[-500,500]}},"color":{"condition":{"test":"datum.h>=0","value":"#6ccf6c"},"value":"#e07a7a"}}},
   {"mark":{"type":"rule","color":"#8a8ac8","strokeWidth":0.6},"encoding":{"y":{"datum":0}}},
   {"mark":{"type":"line","color":"#999","strokeDash":[1,1],"strokeWidth":0.7},"encoding":{"x":{"field":"t","type":"temporal"},"y":{"field":"s","type":"quantitative"}}},
   {"mark":{"type":"line","color":"#e02a2a","strokeWidth":0.9},"encoding":{"x":{"field":"t","type":"temporal"},"y":{"field":"m","type":"quantitative"}}}
  ]},
 {"width":269,"height":21,
  "layer":[
   {"data":{"name":"wk"},"mark":{"type":"bar","size":1.1,"color":"#2a4fd0"},"encoding":{"x":{"field":"t","type":"temporal","scale":{"domain":[{"year":2019,"month":9,"date":13},{"year":2023,"month":12,"date":19}]},"title":null,"axis":{"tickCount":{"interval":"month","step":3},"labelFontSize":4.5,"labelExpr":"month(datum.value)==0 ? timeFormat(datum.value,'%Y') : ['ene','feb','mar','abr','may','jun','jul','ago','sept','oct','nov','dic'][month(datum.value)]"}},"y":{"field":"v","type":"quantitative","title":null,"scale":{"domain":[0,3500],"nice":false},"axis":{"orient":"right","values":[1000,2000],"labelExpr":"format(datum.value,',')+'k'"}}}},
   {"data":{"name":"vsL"},"mark":{"type":"line","color":"#e07070","strokeWidth":0.7},"encoding":{"x":{"field":"t","type":"temporal"},"y":{"field":"v","type":"quantitative"}}}
  ]}
]},
{"bounds":"flush","spacing":6,"vconcat":[
 {"width":268,"height":238,"title":{"text":"Diario","fontSize":4,"color":"#555","offset":1},
  "layer":[
   {"data":{"name":"trendR"},"mark":{"type":"rule","strokeDash":[2,2],"color":"#8c8cc8","strokeWidth":0.7,"clip":true},
    "encoding":{"x":{"field":"a","type":"temporal","scale":{"domain":[{"year":2022,"month":9,"date":18},{"year":2023,"month":8,"date":23}]},"axis":null},"x2":{"field":"b"},
     "y":{"field":"y1","type":"quantitative","title":null,"scale":{"type":"log","domain":[7143,9923],"nice":false,"zero":false},
      "axis":{"orient":"right","values":[7200,7400,7600,7800,8000,8200,8400,8600,8800,9000,9200,9400,9600,9800],"format":",","labelFontWeight":{"condition":{"test":"datum.value % 1000 === 0","value":"bold"},"value":"normal"}}},
     "y2":{"field":"y2"}}},
   {"data":{"name":"sma200R"},"mark":{"type":"line","color":"#e07a8a","strokeWidth":0.8,"clip":true},"encoding":{"x":{"field":"t","type":"temporal"},"y":{"field":"p","type":"quantitative"}}},
   {"data":{"name":"sma50R"},"mark":{"type":"line","color":"#9ad88a","strokeWidth":0.8,"clip":true},"encoding":{"x":{"field":"t","type":"temporal"},"y":{"field":"p","type":"quantitative"}}},
   {"data":{"name":"dy"},"mark":{"type":"rule","strokeWidth":0.5,"clip":true},"encoding":{"x":{"field":"t","type":"temporal"},"y":{"field":"l","type":"quantitative"},"y2":{"field":"h"},"color":{"condition":{"test":"datum.c>=datum.o","value":"#8fcf8f"},"value":"#d99a94"}}},
   {"data":{"name":"dy"},"mark":{"type":"bar","size":1,"clip":true},"encoding":{"x":{"field":"t","type":"temporal"},"y":{"field":"o","type":"quantitative"},"y2":{"field":"c"},"color":{"condition":{"test":"datum.c>=datum.o","value":"#3fb53f"},"value":"#c8574e"}}},
   {"data":{"name":"thinR"},"mark":{"type":"rule","color":"#8888cc","strokeWidth":0.6,"clip":true},"encoding":{"x":{"field":"s","type":"temporal"},"x2":{"datum":{"year":2023,"month":8,"date":23}},"y":{"field":"p","type":"quantitative"}}},
   {"data":{"name":"lvlR"},"mark":{"type":"rule","color":"#3a3ad0","strokeWidth":1,"clip":true},"encoding":{"x":{"field":"s","type":"temporal"},"x2":{"datum":{"year":2023,"month":8,"date":23}},"y":{"field":"p","type":"quantitative"}}},
   {"data":{"name":"lvlR"},"mark":{"type":"point","shape":"M-1,-0.3L1,-0.3L1,0.3L-1,0.3Z","size":225,"filled":true,"fill":"white","stroke":"#5555cc","strokeWidth":0.6,"opacity":1},"encoding":{"x":{"datum":{"year":2023,"month":8,"date":14}},"y":{"field":"p","type":"quantitative"}}},
   {"data":{"name":"lvlR"},"mark":{"type":"text","fontSize":3.4,"color":"#3333aa","font":"Liberation Sans"},"encoding":{"x":{"datum":{"year":2023,"month":8,"date":14}},"y":{"field":"p","type":"quantitative"},"text":{"field":"lab"}}}
  ]},
 {"width":268,"height":31,"title":{"text":"ProRealTime.com","fontSize":4,"color":"#555","anchor":"start","offset":1},"data":{"name":"macdR"},
  "layer":[
   {"mark":{"type":"bar","size":5,"opacity":0.55},"encoding":{"x":{"field":"t","type":"temporal","scale":{"domain":[{"year":2022,"month":9,"date":18},{"year":2023,"month":8,"date":23}]},"axis":null},"y":{"field":"h","type":"quantitative","title":null,"scale":{"domain":[-215,224],"nice":false},"axis":{"orient":"right","values":[-200,-100,100,200]}},"color":{"condition":{"test":"datum.h>=0","value":"#6ccf6c"},"value":"#e07a7a"}}},
   {"mark":{"type":"rule","color":"#8a8ac8","strokeWidth":0.6},"encoding":{"y":{"datum":0}}},
   {"mark":{"type":"line","color":"#999","strokeDash":[1,1],"strokeWidth":0.7},"encoding":{"x":{"field":"t","type":"temporal"},"y":{"field":"s","type":"quantitative"}}},
   {"mark":{"type":"line","color":"#e02a2a","strokeWidth":0.9},"encoding":{"x":{"field":"t","type":"temporal"},"y":{"field":"m","type":"quantitative"}}}
  ]},
 {"width":268,"height":21,
  "layer":[
   {"data":{"name":"dy"},"mark":{"type":"bar","size":0.9,"color":"#3a5fd8"},"encoding":{"x":{"field":"t","type":"temporal","scale":{"domain":[{"year":2022,"month":9,"date":18},{"year":2023,"month":8,"date":23}]},"title":null,"axis":{"tickCount":{"interval":"month","step":1},"labelFontSize":4.5,"labelExpr":"month(datum.value)==0 ? timeFormat(datum.value,'%Y') : ['ene','feb','mar','abr','may','jun','jul','ago','sept','oct','nov','dic'][month(datum.value)]"}},"y":{"field":"v","type":"quantitative","title":null,"scale":{"domain":[0,480],"nice":false},"axis":{"orient":"right","values":[200,400],"labelExpr":"format(datum.value*1000,',')"}}}},
   {"data":{"name":"vs200R"},"mark":{"type":"line","color":"#e07070","strokeWidth":0.7},"encoding":{"x":{"field":"t","type":"temporal"},"y":{"field":"v","type":"quantitative"}}},
   {"data":{"name":"vs30R"},"mark":{"type":"line","color":"#8ad07a","strokeWidth":0.7},"encoding":{"x":{"field":"t","type":"temporal"},"y":{"field":"v","type":"quantitative"}}}
  ]}
]}
],
"spacing":-5
}
